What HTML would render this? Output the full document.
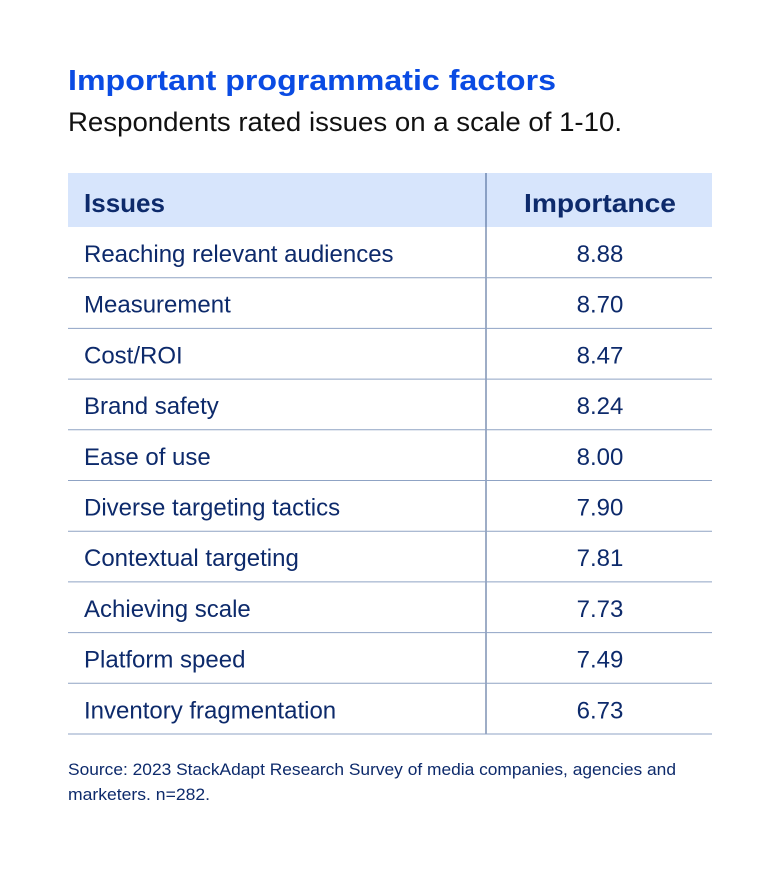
<!DOCTYPE html>
<html><head><meta charset="utf-8"><style>
html,body{margin:0;padding:0;background:#fff;}
svg{display:block;font-family:"Liberation Sans",sans-serif;}
</style></head><body>
<svg width="780" height="875" viewBox="0 0 780 875">
<text x="68" y="90" font-size="29" font-weight="bold" fill="#0a4be3" textLength="488" lengthAdjust="spacingAndGlyphs">Important programmatic factors</text>
<text x="68" y="131" font-size="27" fill="#111" textLength="554" lengthAdjust="spacingAndGlyphs">Respondents rated issues on a scale of 1-10.</text>
<rect x="68" y="173" width="644" height="54" fill="#d7e5fc"/>
<line x1="486" y1="173" x2="486" y2="734" stroke="#3e5b8c" stroke-width="1"/>
<text x="84" y="212" font-size="26" font-weight="bold" fill="#0d2a6b" textLength="81" lengthAdjust="spacingAndGlyphs">Issues</text>
<text x="600" y="212" font-size="26" font-weight="bold" fill="#0d2a6b" text-anchor="middle" textLength="152" lengthAdjust="spacingAndGlyphs">Importance</text>
<g id="rows"></g>
<text x="68" y="775" font-size="17" fill="#0d2a6b" textLength="608" lengthAdjust="spacingAndGlyphs">Source: 2023 StackAdapt Research Survey of media companies, agencies and</text>
<text x="68" y="800" font-size="17" fill="#0d2a6b" textLength="142" lengthAdjust="spacingAndGlyphs">marketers. n=282.</text>
</svg>
<script>
const issues = ["Reaching relevant audiences","Measurement","Cost/ROI","Brand safety","Ease of use","Diverse targeting tactics","Contextual targeting","Achieving scale","Platform speed","Inventory fragmentation"];
const importance = [8.88,8.70,8.47,8.24,8.00,7.90,7.81,7.73,7.49,6.73];
const g = document.getElementById('rows');
const NS = 'http://www.w3.org/2000/svg';
const top0 = 227, rowH = 50.7;
issues.forEach((lab, i) => {
  const y0 = top0 + i * rowH;
  const t = document.createElementNS(NS, 'text');
  t.setAttribute('x', 84); t.setAttribute('y', y0 + 35);
  t.setAttribute('font-size', '24'); t.setAttribute('fill', '#0d2a6b');
  t.textContent = lab;
  
  
  g.appendChild(t);
  const v = document.createElementNS(NS, 'text');
  v.setAttribute('x', 600); v.setAttribute('y', y0 + 35);
  v.setAttribute('font-size', '24'); v.setAttribute('fill', '#0d2a6b');
  v.setAttribute('text-anchor', 'middle');
  v.textContent = importance[i].toFixed(2);
  
  
  g.appendChild(v);
  const l = document.createElementNS(NS, 'line');
  l.setAttribute('x1', 68); l.setAttribute('x2', 712);
  l.setAttribute('y1', y0 + rowH); l.setAttribute('y2', y0 + rowH);
  l.setAttribute('stroke', '#8fa3c4'); l.setAttribute('stroke-width', '1');
  
  
  g.appendChild(l);
});
</script>
</body></html>
